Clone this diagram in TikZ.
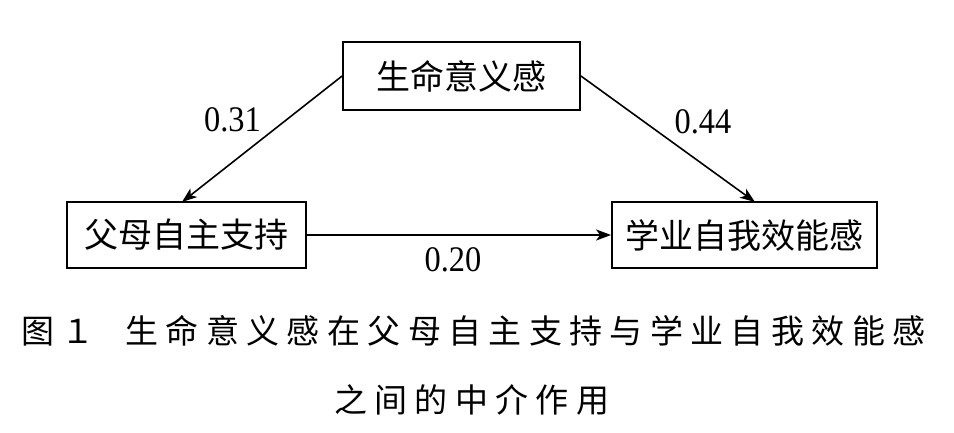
\documentclass[tikz,border=0pt]{standalone}
\usepackage{fontspec}
\setmainfont{Liberation Serif}
\newfontfamily\numfont[FakeStretch=0.9]{Liberation Serif}
\newfontfamily\cjk{Noto Sans CJK SC}
\newfontfamily\cjkcap[LetterSpace=22.3]{Noto Sans CJK SC}
\usetikzlibrary{arrows.meta}
\begin{document}
\begin{tikzpicture}[x=1pt,y=-1pt,
  box/.style={draw, line width=1.8pt, inner sep=0pt, font=\cjk\fontsize{34pt}{40pt}\selectfont},
  arr/.style={line width=1.6pt, -{Stealth[length=15pt,width=11pt,inset=4pt]}},
  num/.style={font=\numfont\fontsize{36pt}{40pt}\selectfont, inner sep=0pt},
  captext/.style={font=\cjkcap\fontsize{33pt}{38pt}\selectfont, inner sep=0pt, anchor=west}]
\useasboundingbox (0,0) rectangle (954,433);
\node[box, minimum width=237pt, minimum height=68pt] (mol) at (461.5,76) {生命意义感};
\node[box, minimum width=239pt, minimum height=66pt] (aut) at (186.5,235) {父母自主支持};
\node[box, minimum width=265pt, minimum height=66pt] (eff) at (744.5,235) {学业自我效能感};
\coordinate (tipl) at (182,202);
\coordinate (tipr) at (755,202);
\draw[arr] (mol.west) -- (tipl);
\draw[arr] (mol.east) -- (tipr);
\draw[arr] (aut.east) -- (eff.west);
\node[num] (n31) at (232.5,120) {0.31};
\node[num] (n44) at (703,122) {0.44};
\node[num] (n20) at (453,260) {0.20};
\node[captext] (cap1) at (21,331) {图１\hspace{31pt}生命意义感在父母自主支持与学业自我效能感};
\node[captext] (cap2) at (334,400) {之间的中介作用};
\end{tikzpicture}
\end{document}
